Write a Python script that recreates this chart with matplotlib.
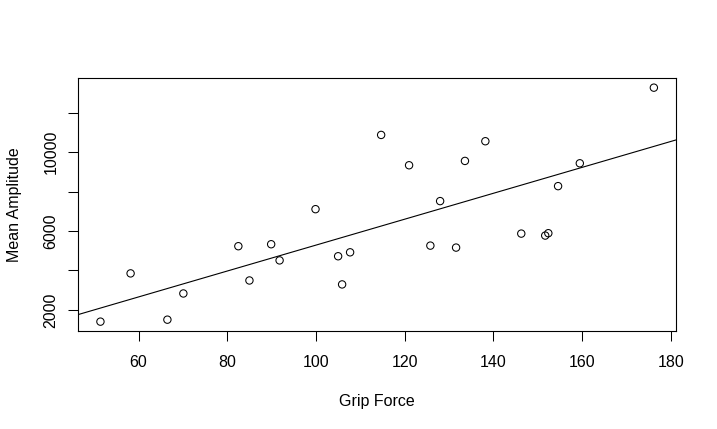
import numpy as np
import matplotlib
matplotlib.use("Agg")
import matplotlib.pyplot as plt

plt.rcParams['font.family'] = ['Liberation Sans', 'DejaVu Sans']

grip_force = [51.4, 58.2, 66.5, 70.1, 82.5, 85.0, 89.9, 91.8, 99.9, 105.0, 105.9, 107.7,
              114.7, 121.0, 125.8, 128.0, 131.6, 133.6, 138.2, 146.3, 151.7, 152.4,
              154.6, 159.5, 176.2]
mean_amplitude = [1400, 3850, 1500, 2830, 5230, 3490, 5330, 4510, 7110, 4720, 3290, 4920,
                  10880, 9340, 5260, 7520, 5160, 9560, 10560, 5870, 5770, 5890,
                  8280, 9440, 13280]

x_ticks = [60, 80, 100, 120, 140, 160, 180]
y_ticks = [2000, 4000, 6000, 8000, 10000, 12000]
y_tick_labels = ['2000', '', '6000', '', '10000', '']

x = np.array(grip_force)
y = np.array(mean_amplitude)

fig = plt.figure(figsize=(7.17, 4.29), dpi=100)
ax = fig.add_axes([78.3/717, 1 - 331/429, (676 - 78.3)/717, (331 - 78.3)/429])

ax.scatter(x, y, s=28, facecolors='none', edgecolors='black', linewidths=0.75, zorder=3)

slope, intercept = np.polyfit(x, y, 1)
xr = (x.min() - 0.04*(x.max()-x.min()), x.max() + 0.04*(x.max()-x.min()))
yr = (y.min() - 0.04*(y.max()-y.min()), y.max() + 0.04*(y.max()-y.min()))
ax.set_xlim(*xr)
ax.set_ylim(*yr)
ax.axline((0, intercept), slope=slope, color='black', linewidth=0.8)

ax.set_xticks(x_ticks)
ax.set_xticklabels([str(t) for t in x_ticks])
ax.set_yticks(y_ticks)
ax.set_yticklabels(y_tick_labels, rotation=90, va='center')
ax.tick_params(axis='both', direction='out', length=7.2, width=0.75, labelsize=11.5)
ax.tick_params(axis='x', pad=10)
ax.tick_params(axis='y', pad=7)

for s in ax.spines.values():
    s.set_linewidth(0.8)

ax.set_xlabel('Grip Force', fontsize=11.5, labelpad=17.5)
ax.set_ylabel('Mean Amplitude', fontsize=11.5, labelpad=15.5)

fig.savefig('out.png', dpi=100)
